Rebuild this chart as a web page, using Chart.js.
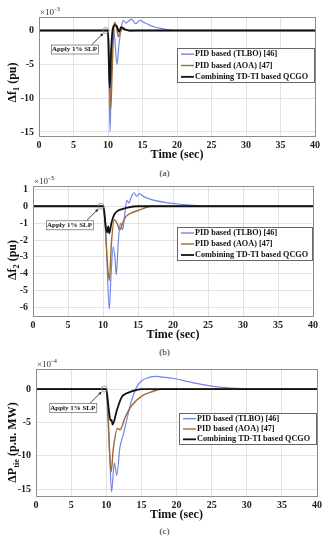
<!DOCTYPE html>
<html>
<head>
<meta charset="utf-8">
<script src="https://cdn.jsdelivr.net/npm/chart.js@4.4.1/dist/chart.umd.min.js"></script>
<style>
  body { margin: 0; background: #fff; width: 329px; height: 550px; position: relative; overflow: hidden; font-family: "Liberation Serif", serif; }
  canvas { position: absolute; left: 0; }
  .cap { position: absolute; left: 0; width: 329px; text-align: center; font-size: 9px; color: #222; }
</style>
</head>
<body>
<canvas id="ca" width="329" height="165" style="top:0px"></canvas>
<div class="cap" style="top:168px">(a)</div>
<canvas id="cb" width="329" height="175" style="top:172px"></canvas>
<div class="cap" style="top:347px">(b)</div>
<canvas id="cc" width="329" height="171" style="top:355px"></canvas>
<div class="cap" style="top:526px">(c)</div>
<script>
// shared
const xTicks = [0, 5, 10, 15, 20, 25, 30, 35, 40];
const seriesNames = ['PID based (TLBO) [46]', 'PID based (AOA) [47]', 'Combining TD-TI based QCGO'];
const seriesColors = ['#7485e8', '#9c6a32', '#111111'];
const noteText = 'Apply 1% SLP';

// (a) delta f1, units of 1e-3 pu
const yTicksA = [-15, -10, -5, 0];
const tA_tlbo = [0, 10, 10.1, 10.3, 10.5, 10.75, 11.0, 11.3, 11.6, 11.9, 12.2, 12.6, 13.0, 13.4, 14.0, 14.6, 15.2, 16, 17, 17.5, 18.5, 20, 40];
const vA_tlbo = [0, 0, -3, -15, -6, 0.5, -1.5, -5, -2, 0.3, 1.5, 1.1, 1.4, 1.7, 1.0, 1.5, 1.2, 0.8, 0.45, 0.35, 0.15, 0, 0];
const tA_aoa = [0, 10, 10.15, 10.4, 10.6, 10.85, 11.0, 11.2, 11.5, 11.8, 12.2, 12.6, 13.2, 14, 40];
const vA_aoa = [0, 0, -3, -11.5, -6, 0.5, 1.2, 0.6, -0.9, -0.2, 0.4, 0.1, -0.1, 0, 0];
const tA_qcgo = [0, 10, 10.1, 10.25, 10.45, 10.7, 11.0, 11.3, 11.6, 11.9, 12.3, 12.8, 13.5, 40];
const vA_qcgo = [0, 0, -4, -8.5, -3, 0.3, 0.8, 0.6, -0.2, 0.5, 0.2, 0.05, 0, 0];

// (b) delta f2, units of 1e-3 pu
const yTicksB = [-6, -5, -4, -3, -2, -1, 0, 1];
const tB_tlbo = [0, 10, 10.2, 10.5, 10.9, 11.1, 11.45, 11.7, 11.9, 12.2, 12.5, 12.8, 13.1, 13.4, 13.7, 14.0, 14.4, 14.8, 15.2, 15.7, 16.5, 17.5, 19, 21, 23, 25, 40];
const vB_tlbo = [0, 0, -0.5, -2.5, -6.1, -4.5, -2.4, -3.0, -4.05, -2.0, -1.0, -1.4, -0.5, 0.35, 0.2, 0.5, 0.8, 0.6, 0.75, 0.6, 0.45, 0.33, 0.22, 0.12, 0.05, 0, 0];
const tB_aoa = [0, 10, 10.3, 10.6, 10.9, 11.2, 11.6, 12.0, 12.4, 12.8, 13.3, 14, 15, 16, 17, 40];
const vB_aoa = [0, 0, -1.0, -3.2, -4.4, -2.2, -0.8, -1.0, -1.4, -1.0, -0.6, -0.4, -0.25, -0.1, 0, 0];
const tB_qcgo = [0, 10.05, 10.4, 10.6, 10.75, 10.9, 11.2, 11.6, 12.0, 12.5, 13.5, 15, 40];
const vB_qcgo = [0, 0, -1.2, -1.55, -1.2, -1.6, -1.0, -0.5, -0.3, -0.2, -0.08, 0, 0];

// (c) delta P tie, units of 1e-4 p.u. MW
const yTicksC = [-15, -10, -5, 0];
const tC_tlbo = [0, 10, 10.2, 10.5, 10.75, 11.15, 11.5, 11.95, 12.4, 12.9, 13.6, 14.3, 15.0, 16.0, 17.0, 18.4, 20, 21.5, 23, 25, 27, 30, 40];
const vC_tlbo = [0, 0, -2, -10, -15.4, -11, -12.9, -8.7, -6.9, -4.7, -1.7, 0.25, 1.2, 1.7, 1.9, 1.75, 1.5, 1.15, 0.8, 0.45, 0.2, 0.03, 0];
const tC_aoa = [0, 10, 10.2, 10.45, 10.7, 11.0, 11.6, 11.95, 12.7, 13.6, 15.0, 16.5, 18, 40];
const vC_aoa = [0, 0, -3, -9, -12.4, -9, -5.9, -6.1, -4.2, -2.5, -1.1, -0.4, 0, 0];
const tC_qcgo = [0, 10, 10.3, 10.6, 10.75, 10.9, 11.5, 12.2, 12.9, 13.6, 15, 40];
const vC_qcgo = [0, 0, -2.5, -4.7, -4.6, -5.3, -3.2, -1.2, -0.64, -0.35, 0, 0];

const pts = (t, v) => t.map((x, i) => ({ x: x, y: v[i] }));

function drawRich(ctx, parts, size) {
  // parts: [text, isSub]; drawn centred on the current origin
  let total = 0;
  parts.forEach(p => {
    ctx.font = 'bold ' + (p[1] ? size * 0.7 : size) + 'px "Liberation Serif"';
    total += ctx.measureText(p[0]).width;
  });
  let x = -total / 2;
  ctx.textAlign = 'left';
  ctx.textBaseline = 'middle';
  parts.forEach(p => {
    ctx.font = 'bold ' + (p[1] ? size * 0.7 : size) + 'px "Liberation Serif"';
    ctx.fillText(p[0], x, p[1] ? size * 0.3 : 0);
    x += ctx.measureText(p[0]).width;
  });
}

function makeChart(id, o) {
  const sets = [
    [o.series[0], 3, 1.2],
    [o.series[1], 2, 1.4],
    [o.series[2], 1, 1.8]
  ].map((s, i) => ({
    label: seriesNames[i],
    data: pts(s[0][0], s[0][1]),
    borderColor: seriesColors[i],
    borderWidth: s[2],
    pointRadius: 0,
    cubicInterpolationMode: 'monotone',
    order: s[1]
  }));

  const extras = {
    id: 'extras',
    afterDraw(chart) {
      const { ctx, chartArea: a, scales: { x, y } } = chart;
      ctx.save();
      // axes box
      ctx.strokeStyle = '#8c8c8c';
      ctx.lineWidth = 1;
      ctx.strokeRect(Math.round(a.left) + 0.5, Math.round(a.top) + 0.5, Math.round(a.right - a.left), Math.round(a.bottom - a.top));

      // exponent
      ctx.fillStyle = '#333';
      ctx.textAlign = 'left';
      ctx.textBaseline = 'alphabetic';
      ctx.font = '9px "Liberation Serif"';
      ctx.fillText('\u00d710', a.left + 1, a.top - 2);
      const w = ctx.measureText('\u00d710').width;
      ctx.font = '7px "Liberation Serif"';
      ctx.fillText(o.exp, a.left + 1 + w, a.top - 6);

      // annotation
      const px = x.getPixelForValue(10), py = y.getPixelForValue(0);
      const bx = px - 57, by = py + 14, bw = 47, bh = 9;
      ctx.fillStyle = '#fff';
      ctx.fillRect(bx, by, bw, bh);
      ctx.strokeStyle = '#777';
      ctx.lineWidth = 0.8;
      ctx.strokeRect(bx + 0.5, by + 0.5, bw, bh);
      ctx.fillStyle = '#111';
      ctx.font = 'bold 7px "Liberation Serif"';
      ctx.textAlign = 'center';
      ctx.textBaseline = 'middle';
      ctx.fillText(noteText, bx + bw / 2, by + bh / 2 + 0.5);
      ctx.beginPath();
      ctx.arc(px - 2, py, 3, 0, Math.PI * 2);
      ctx.strokeStyle = '#888';
      ctx.stroke();
      const x0 = bx + bw - 6, y0 = by, x1 = px - 5, y1 = py + 3;
      ctx.strokeStyle = '#111';
      ctx.beginPath(); ctx.moveTo(x0, y0); ctx.lineTo(x1, y1); ctx.stroke();
      const ang = Math.atan2(y1 - y0, x1 - x0);
      ctx.fillStyle = '#111';
      ctx.beginPath();
      ctx.moveTo(x1, y1);
      ctx.lineTo(x1 - 3 * Math.cos(ang - 0.5), y1 - 3 * Math.sin(ang - 0.5));
      ctx.lineTo(x1 - 3 * Math.cos(ang + 0.5), y1 - 3 * Math.sin(ang + 0.5));
      ctx.closePath(); ctx.fill();

      // legend
      const L = o.legend;
      const lx = a.right - L.w, ly = a.top + L.dy;
      ctx.fillStyle = '#fff';
      ctx.fillRect(lx, ly, L.w, L.h);
      ctx.strokeStyle = '#666';
      ctx.lineWidth = 1;
      ctx.strokeRect(Math.round(lx) + 0.5, Math.round(ly) + 0.5, L.w - 1, L.h);
      ctx.font = 'bold 8.2px "Liberation Serif"';
      ctx.textAlign = 'left';
      ctx.textBaseline = 'middle';
      seriesNames.forEach((n, i) => {
        const ry = ly + L.h / 6 + i * L.h / 3 + 0.5;
        ctx.strokeStyle = seriesColors[i];
        ctx.lineWidth = i === 2 ? 1.8 : 1.4;
        ctx.beginPath(); ctx.moveTo(lx + 4, ry); ctx.lineTo(lx + 17, ry); ctx.stroke();
        ctx.fillStyle = '#111';
        ctx.fillText(n, lx + 18, ry);
      });

      // axis titles
      ctx.fillStyle = '#111';
      ctx.font = 'bold 12px "Liberation Serif"';
      ctx.textAlign = 'center';
      ctx.textBaseline = 'middle';
      ctx.fillText('Time (sec)', (a.left + a.right) / 2, a.bottom + 19);
      ctx.translate(13, (a.top + a.bottom) / 2 + o.titleShift);
      ctx.rotate(-Math.PI / 2);
      drawRich(ctx, o.yTitle, 12);
      ctx.restore();
    }
  };

  return new Chart(document.getElementById(id), {
    type: 'line',
    data: { datasets: sets },
    options: {
      responsive: false,
      animation: false,
      layout: { padding: { top: o.top, right: o.right, left: 0, bottom: 0 } },
      plugins: { legend: { display: false }, tooltip: { enabled: false } },
      scales: {
        x: {
          type: 'linear', min: 0, max: 40,
          afterBuildTicks: s => { s.ticks = xTicks.map(v => ({ value: v })); },
          afterFit: s => { s.height = o.xh; },
          grid: { color: '#e2e2e2', drawTicks: false },
          border: { display: false },
          ticks: { padding: 3, color: '#222', maxRotation: 0, font: { family: 'Liberation Serif', weight: 'bold', size: 10 } }
        },
        y: {
          min: o.min, max: o.max,
          afterBuildTicks: s => { s.ticks = o.yTicks.map(v => ({ value: v })); },
          afterFit: s => { s.width = o.yw; },
          grid: { color: '#e2e2e2', drawTicks: false },
          border: { display: false },
          ticks: { padding: 5, color: '#222', font: { family: 'Liberation Serif', weight: 'bold', size: 10 } }
        }
      }
    },
    plugins: [extras]
  });
}

makeChart('ca', {
  series: [[tA_tlbo, vA_tlbo], [tA_aoa, vA_aoa], [tA_qcgo, vA_qcgo]],
  min: -15.6, max: 2, yTicks: yTicksA, exp: '-3',
  top: 17, right: 14, yw: 39, xh: 29,
  legend: { w: 138, dy: 31, h: 34 },
  yTitle: [['\u0394f', 0], ['1', 1], [' (pu)', 0]], titleShift: 6
});
makeChart('cb', {
  series: [[tB_tlbo, vB_tlbo], [tB_aoa, vB_aoa], [tB_qcgo, vB_qcgo]],
  min: -6.5, max: 1.2, yTicks: yTicksB, exp: '-3',
  top: 14, right: 16, yw: 33, xh: 31,
  legend: { w: 136, dy: 41, h: 33 },
  yTitle: [['\u0394f', 0], ['2', 1], [' (pu)', 0]], titleShift: 9
});
makeChart('cc', {
  series: [[tC_tlbo, vC_tlbo], [tC_aoa, vC_aoa], [tC_qcgo, vC_qcgo]],
  min: -16, max: 3, yTicks: yTicksC, exp: '-4',
  top: 14, right: 12, yw: 36, xh: 30,
  legend: { w: 138, dy: 44, h: 31 },
  yTitle: [['\u0394P', 0], ['tie', 1], [' (p.u. MW)', 0]], titleShift: 10
});
</script>
</body>
</html>
